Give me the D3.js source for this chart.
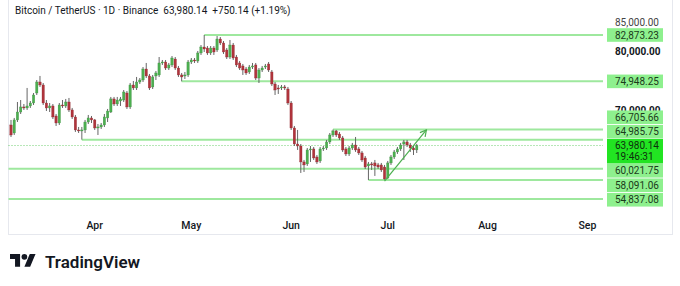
<!DOCTYPE html>
<html>
<head>
<meta charset="utf-8">
<script src="https://cdn.jsdelivr.net/npm/d3@7"></script>
<style>
  body { margin: 0; background: #fff; }
  svg { display: block; }
  text { font-family: Roboto, "Noto Sans", sans-serif; }
</style>
</head>
<body>
<svg id="chart" width="680" height="286"></svg>
<script>
"use strict";

// Data: daily BTCUSDT candles [open, high, low, close], first one on startDate
var startDate = "2026-03-06";
var candles = [
  [67490, 68350, 65440, 65780], [66120, 68690, 65780, 68350], [68350, 71420, 68000, 69710], [69710, 71760, 69370, 70570],
  [70570, 71080, 70060, 70400], [70400, 73820, 70060, 70740], [70740, 71590, 70400, 71250], [71250, 72960, 70910, 72620],
  [72960, 75180, 72620, 74840], [74840, 75870, 73990, 74330], [74330, 74670, 70910, 71250], [71250, 71760, 69880, 70400],
  [70400, 71250, 69710, 70740], [70740, 71080, 68520, 68860], [69030, 69370, 67320, 67830], [67830, 71250, 67490, 70910],
  [70910, 71760, 70400, 70740], [70740, 71940, 70400, 71420], [71420, 72110, 69710, 70060], [70060, 70400, 68520, 68860],
  [68860, 69200, 66300, 66640], [66640, 67150, 66120, 66470], [66470, 67150, 64985.75, 66640], [66640, 68350, 66120, 68000],
  [68000, 69200, 67660, 68690], [68690, 69030, 67830, 68350], [68350, 68520, 66640, 66980], [66980, 67660, 65780, 67150],
  [67150, 67830, 66810, 67490], [67490, 69370, 67150, 68860], [68690, 70230, 68000, 69880], [69710, 72280, 69540, 71940],
  [71940, 72280, 70740, 71080], [71080, 72280, 70740, 71760], [71590, 72280, 70740, 71940], [71760, 73470, 71420, 73130],
  [72960, 73300, 70230, 70570], [70570, 74670, 70230, 74330], [74330, 75010, 73470, 73820], [73820, 75700, 73470, 74840],
  [74840, 75520, 74500, 75180], [75180, 77400, 74840, 77060], [77060, 78090, 75520, 75870], [75870, 76210, 73470, 73820],
  [73990, 76040, 73640, 75700], [75870, 76720, 75180, 76380], [76040, 79110, 75700, 78090], [78090, 78600, 77750, 78260],
  [78260, 78600, 76890, 77230], [77230, 78090, 76890, 77750], [77750, 79280, 77400, 78940], [78770, 79110, 76890, 77230],
  [77230, 77580, 75700, 76040], [76040, 76380, 74948.25, 75700], [75870, 76550, 75350, 76040], [76040, 78600, 75700, 78260],
  [78260, 78940, 77920, 78600], [78600, 78940, 78090, 78430], [78430, 80140, 78090, 79800], [79800, 81160, 79460, 80820],
  [80820, 82873.23, 79970, 80480], [80650, 80990, 79460, 79800], [79800, 80990, 79460, 80650], [80650, 80990, 79460, 79970],
  [80310, 82700, 79970, 82190], [82190, 82530, 81160, 81510], [81510, 81850, 79630, 79970], [80310, 80650, 78770, 79110],
  [79110, 82020, 78770, 81160], [81160, 81510, 78600, 78940], [79110, 79460, 77400, 77750], [78090, 78430, 76890, 77230],
  [77580, 77920, 76040, 76890], [77060, 77400, 76040, 76380], [76550, 77750, 76210, 77400], [77400, 78090, 77060, 77580],
  [77750, 78090, 75180, 75520], [75520, 77230, 74670, 76890], [76890, 77580, 76550, 77230], [77400, 77920, 77060, 77580],
  [77920, 78260, 76550, 76890], [76550, 76890, 74160, 74500], [74500, 74840, 72620, 73470], [73820, 74330, 72790, 73640],
  [73820, 74330, 73470, 73990], [73990, 74330, 73470, 73820], [73640, 73990, 70910, 71250], [71250, 71590, 66640, 66980],
  [66980, 67320, 63900, 64240], [64240, 66640, 63220, 63900], [63900, 64240, 59290, 61170], [61170, 61510, 59460, 60660],
  [60830, 63560, 60490, 63220], [63220, 63900, 61170, 63390], [63390, 63730, 61510, 61850], [62020, 62360, 60830, 61170],
  [61340, 63730, 61000, 63390], [63390, 63900, 63050, 63560], [63560, 64930, 63220, 64590], [64590, 66120, 64240, 65780],
  [65780, 66705.66, 65440, 66470], [66470, 66640, 65440, 65780], [65950, 66300, 64930, 65270], [65270, 65610, 62880, 63220],
  [63390, 63730, 62190, 62540], [62540, 63900, 62190, 63560], [63560, 64420, 63220, 64070], [64070, 65440, 62880, 63220],
  [63390, 63730, 62360, 62710], [62710, 63050, 61170, 61510], [61850, 62190, 59970, 60310], [60490, 61170, 58091.06, 60830],
  [60830, 61170, 59800, 60660], [61000, 61510, 58780, 60490], [60660, 61000, 59970, 60310], [60660, 61000, 59460, 59800],
  [60310, 60660, 58150, 58260], [58430, 61340, 58260, 61000], [61000, 62360, 60660, 62020], [62020, 63220, 61680, 62880],
  [62880, 63730, 62540, 63390], [63390, 64420, 63050, 64070], [64240, 64930, 61510, 64590], [64590, 64930, 63730, 64070],
  [64070, 64420, 62880, 63560], [63560, 63900, 62360, 63230], [63230, 64250, 62700, 63980.14]
];

// Horizontal levels and the candle index where each line starts (null = from the left edge)
var levelPrices = [82873.23, 74948.25, 66705.66, 64985.75, 60021.75, 58091.06, 54837.08];
var levelStart = [60, 53, 100, 22, null, 111, null];

var lastPrice = 63980.14;
var lastChange = 750.14;
var lastChangePct = 1.19;
var countdown = "19:46:31";

var priceTicks = [85000, 80000, 70000];
var boldTicks = [80000, 70000];
var monthTicks = ["2026-04-01", "2026-05-01", "2026-06-01", "2026-07-01", "2026-08-01", "2026-09-01"];
var monthLabels = ["Apr", "May", "Jun", "Jul", "Aug", "Sep"];

// Projection arrow: [date, price] points
var arrowPoints = [["2026-06-30", 57900], ["2026-07-13", 66640]];

window.onload = function() {
  var svg = d3.select("#chart");
  var parse = d3.utcParse("%Y-%m-%d");
  var t0 = parse(startDate);
  var fmt = d3.format(",.2f");

  var plotLeft = 8.5, plotRight = 603;
  var x = d3.scaleUtc().domain([t0, parse("2026-09-01")]).range([11, 587.4]);
  var y = d3.scaleLinear().domain([82873.23, 54837.08]).range([35, 199]);

  // frame
  svg.append("rect").attr("x", 8.5).attr("y", -1).attr("width", 664).attr("height", 235.5)
     .attr("fill", "none").attr("stroke", "#e6e8ee");

  var plot = svg.append("g");

  // level lines
  levelPrices.forEach(function(p, i) {
    var x0 = levelStart[i] === null ? plotLeft : x(d3.utcDay.offset(t0, levelStart[i]));
    plot.append("line")
        .attr("x1", x0).attr("x2", plotRight)
        .attr("y1", y(p)).attr("y2", y(p))
        .attr("stroke", "#9ee89e").attr("stroke-width", 2);
  });

  // last price dotted line
  plot.append("line")
      .attr("x1", plotLeft).attr("x2", plotRight)
      .attr("y1", y(lastPrice)).attr("y2", y(lastPrice))
      .attr("stroke", "#6fcf6f").attr("stroke-width", 1)
      .attr("stroke-dasharray", "1,2");

  // candles
  candles.forEach(function(c, i) {
    var cx = x(d3.utcDay.offset(t0, i));
    var up = c[3] >= c[0];
    plot.append("line")
        .attr("x1", cx).attr("x2", cx)
        .attr("y1", y(c[1])).attr("y2", y(c[2]))
        .attr("stroke", "#555").attr("stroke-width", 0.9);
    var top = y(Math.max(c[0], c[3])), bot = y(Math.min(c[0], c[3]));
    plot.append("rect")
        .attr("x", cx - 1.2).attr("width", 2.4)
        .attr("y", top).attr("height", Math.max(bot - top, 0.8))
        .attr("fill", up ? "#4caf50" : "#b0343c")
        .attr("stroke", up ? "#3d8c40" : "#8e2a30").attr("stroke-width", 0.3);
  });

  // arrow
  var line = d3.line().x(function(d) { return x(parse(d[0])); }).y(function(d) { return y(d[1]); });
  plot.append("path").attr("d", line(arrowPoints))
      .attr("fill", "none").attr("stroke", "#4caf50").attr("stroke-width", 1.2);
  var a = arrowPoints[arrowPoints.length - 1], b = arrowPoints[arrowPoints.length - 2];
  var ax = x(parse(a[0])), ay = y(a[1]), bx = x(parse(b[0])), by = y(b[1]);
  var ang = Math.atan2(ay - by, ax - bx);
  var hl = 7;
  plot.append("path")
      .attr("d", "M" + (ax - hl * Math.cos(ang - 0.5)) + "," + (ay - hl * Math.sin(ang - 0.5)) +
                 "L" + ax + "," + ay +
                 "L" + (ax - hl * Math.cos(ang + 0.5)) + "," + (ay - hl * Math.sin(ang + 0.5)))
      .attr("fill", "none").attr("stroke", "#4caf50").attr("stroke-width", 1.2);

  // price axis ticks
  priceTicks.forEach(function(p) {
    svg.append("text").attr("x", 615).attr("y", y(p)).attr("dy", "0.35em")
       .attr("font-size", 10)
       .attr("font-weight", boldTicks.indexOf(p) >= 0 ? 700 : 400)
       .attr("fill", boldTicks.indexOf(p) >= 0 ? "#131722" : "#444")
       .text(fmt(p));
  });

  // level labels, pushed apart around the last price box
  var rowH = 14.5;
  var lastTop = y(lastPrice) - 6.5, lastBot = lastTop + 24.5;
  var labels = levelPrices.map(function(p) { return { p: p, cy: y(p) }; });
  var above = labels.filter(function(d) { return d.p > lastPrice; }).sort(function(a, b) { return b.cy - a.cy; });
  var below = labels.filter(function(d) { return d.p < lastPrice; }).sort(function(a, b) { return a.cy - b.cy; });
  var limit = lastTop;
  above.forEach(function(d) { d.cy = Math.min(d.cy, limit - rowH / 2); limit = d.cy - rowH / 2; });
  limit = lastBot;
  below.forEach(function(d) { d.cy = Math.max(d.cy, limit + rowH / 2); limit = d.cy + rowH / 2; });

  labels.forEach(function(d) {
    svg.append("rect").attr("x", 607).attr("y", d.cy - 6.8).attr("width", 56).attr("height", 13.6)
       .attr("fill", "#8ef08e");
    svg.append("text").attr("x", 615).attr("y", d.cy).attr("dy", "0.35em")
       .attr("font-size", 10).attr("fill", "#1b3a1b").text(fmt(d.p));
  });

  svg.append("rect").attr("x", 607).attr("y", lastTop).attr("width", 56).attr("height", 24.5)
     .attr("fill", "#22e422");
  svg.append("text").attr("x", 615).attr("y", y(lastPrice)).attr("dy", "0.35em")
     .attr("font-size", 10).attr("fill", "#0d300d").text(fmt(lastPrice));
  svg.append("text").attr("x", 615).attr("y", y(lastPrice) + 11).attr("dy", "0.35em")
     .attr("font-size", 10).attr("fill", "#0d300d").text(countdown);

  // time axis
  monthTicks.forEach(function(m, i) {
    svg.append("text").attr("x", x(parse(m))).attr("y", 225).attr("dy", "0.35em")
       .attr("text-anchor", "middle").attr("font-size", 10.5).attr("font-weight", 500)
       .attr("fill", "#131722").text(monthLabels[i]);
  });

  // header
  svg.append("text").attr("x", 15).attr("y", 14)
     .attr("font-size", 10).attr("fill", "#131722")
     .text("Bitcoin / TetherUS \u00b7 1D \u00b7 Binance  " + fmt(lastPrice) + "  +" + fmt(lastChange) +
           " (+" + lastChangePct.toFixed(2) + "%)")
     .style("white-space", "pre");

  // TradingView logo
  var logo = svg.append("g").attr("transform", "translate(10,251) scale(0.72)");
  logo.append("path").attr("d", "M14 22H7V11H0V4h14v18zM28 22h-8l7.5-18h8L28 22z").attr("fill", "#131722");
  logo.append("circle").attr("cx", 20).attr("cy", 8).attr("r", 4).attr("fill", "#131722");
  svg.append("text").attr("x", 45).attr("y", 268)
     .attr("font-family", "Inter, Roboto, sans-serif")
     .attr("font-size", 17).attr("font-weight", 600).attr("fill", "#131722")
     .text("TradingView");
};
</script>
</body>
</html>
